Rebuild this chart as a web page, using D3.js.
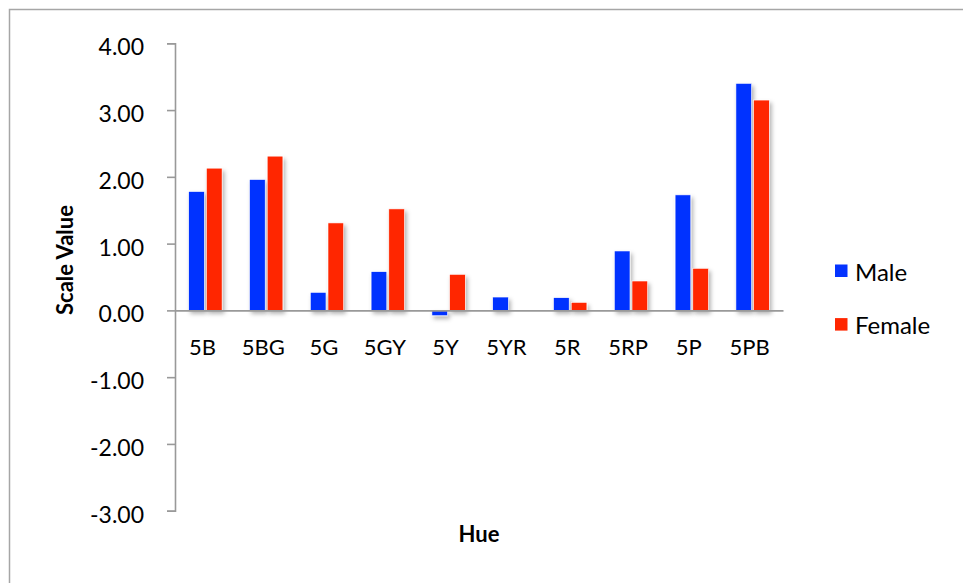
<!DOCTYPE html>
<html>
<head>
<meta charset="utf-8">
<script src="https://cdn.jsdelivr.net/npm/d3@7/dist/d3.min.js"></script>
<style>
  html, body { margin: 0; padding: 0; background: #fff; }
  svg { display: block; font-family: Lato, "Open Sans", sans-serif; }
</style>
</head>
<body>
<svg id="chart" width="963" height="583"></svg>
<script>
const categories = ["5B", "5BG", "5G", "5GY", "5Y", "5YR", "5R", "5RP", "5P", "5PB"];
const maleValues = [1.78, 1.96, 0.27, 0.58, -0.08, 0.20, 0.19, 0.89, 1.73, 3.40];
const femaleValues = [2.13, 2.31, 1.31, 1.52, 0.54, 0.00, 0.12, 0.44, 0.63, 3.15];
const seriesNames = ["Male", "Female"];
const seriesColors = ["#0433FF", "#FF2600"];
const yTicks = [4, 3, 2, 1, 0, -1, -2, -3];

const svg = d3.select("#chart");

// outer frame
svg.append("rect")
  .attr("x", 9.5).attr("y", 9.5)
  .attr("width", 1000).attr("height", 1000)
  .attr("fill", "none").attr("stroke", "#a6a6a6").attr("stroke-width", 1.5);

const defs = svg.append("defs");
const f = defs.append("filter").attr("id", "shadow")
  .attr("x", "-50%").attr("y", "-20%").attr("width", "200%").attr("height", "140%");
f.append("feDropShadow")
  .attr("dx", 2).attr("dy", 3).attr("stdDeviation", 2)
  .attr("flood-color", "#000").attr("flood-opacity", 0.3);

const x = d3.scaleBand().domain(categories).range([175, 783]).padding(0);
const y = d3.scaleLinear().domain([-3, 4]).range([510.7, 43.3]);

const barW = 15.7, gap = 2;
const fmt = v => d3.format(".2f")(v).replace("\u2212", "-");

// y axis
const yAxis = svg.append("g")
  .attr("transform", "translate(175,0)")
  .call(d3.axisLeft(y).tickValues(yTicks).tickFormat(fmt)
    .tickSize(8).tickSizeOuter(8).tickPadding(23));
yAxis.select(".domain").attr("stroke", "#999").attr("stroke-width", 1.6);
yAxis.selectAll(".tick line").attr("stroke", "#999").attr("stroke-width", 1.6);
yAxis.selectAll(".tick text")
  .attr("font-size", 23).attr("fill", "#000")
  .attr("font-family", "Lato, 'Open Sans', sans-serif")
  .attr("dy", "0.5em");

// bars
const allSeries = [maleValues, femaleValues];
allSeries.forEach((vals, si) => {
  svg.append("g").attr("filter", "url(#shadow)")
    .selectAll("rect")
    .data(categories.map((c, i) => ({c, v: vals[i]})))
    .join("rect")
    .attr("x", d => x(d.c) + x.bandwidth() / 2 + (si === 0 ? -gap / 2 - barW : gap / 2))
    .attr("width", barW)
    .attr("y", d => Math.min(y(d.v), y(0)))
    .attr("height", d => Math.abs(y(d.v) - y(0)))
    .attr("fill", seriesColors[si])
    .attr("stroke", "#fff").attr("stroke-width", 0.6);
});

// x axis
const xAxis = svg.append("g")
  .attr("transform", `translate(0,${y(0)})`)
  .call(d3.axisBottom(x).tickSize(0).tickSizeOuter(0).tickPadding(29));
xAxis.select(".domain").attr("stroke", "#999").attr("stroke-width", 1.6);
xAxis.selectAll(".tick text")
  .attr("font-size", 22).attr("fill", "#000")
  .attr("font-family", "Lato, 'Open Sans', sans-serif")
  .attr("dx", -3);

// axis titles
svg.append("text")
  .attr("transform", "translate(73,260) rotate(-90)")
  .attr("text-anchor", "middle")
  .attr("font-size", 22).attr("font-weight", "bold")
  .text("Scale Value");

svg.append("text")
  .attr("x", 479).attr("y", 541.7)
  .attr("text-anchor", "middle")
  .attr("font-size", 22).attr("font-weight", "bold")
  .text("Hue");

// legend
const legend = svg.append("g");
seriesNames.forEach((name, i) => {
  const ly = 264.5 + i * 53.6;
  legend.append("rect")
    .attr("x", 835).attr("y", ly).attr("width", 12.5).attr("height", 12.5)
    .attr("fill", seriesColors[i]);
  legend.append("text")
    .attr("x", 855).attr("y", ly + 16.2)
    .attr("font-size", 24)
    .text(name);
});
</script>
</body>
</html>
